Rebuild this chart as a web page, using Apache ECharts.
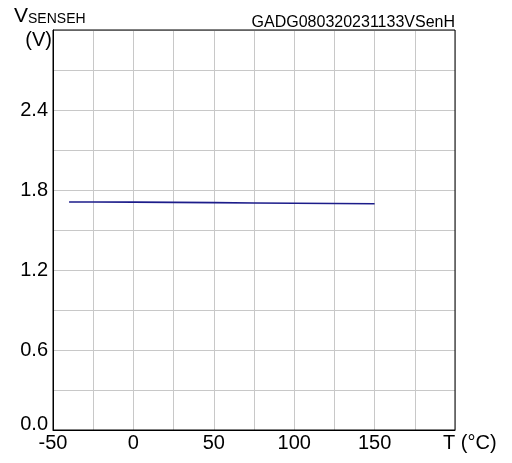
<!DOCTYPE html>
<html>
<head>
<meta charset="utf-8">
<script src="https://cdn.jsdelivr.net/npm/echarts@6/dist/echarts.min.js"></script>
<style>
  html, body { margin: 0; padding: 0; background: #fff; }
  #chart { width: 512px; height: 463px; }
</style>
</head>
<body>
<div id="chart"></div>
<script>
// temperature (°C) and VSENSEH (V)
const temps = [-40, -25, 0, 25, 50, 75, 100, 125, 150];
const vsenseh = [1.710, 1.710, 1.709, 1.707, 1.705, 1.703, 1.701, 1.699, 1.697];
const xTickLabels = ['-50', '0', '50', '100', '150', ''];
const yTickLabels = ['0.0', '0.6', '1.2', '1.8', '2.4', ''];

const chart = echarts.init(document.getElementById('chart'));
const font = 'Liberation Sans, Arial, sans-serif';

const option = {
  animation: false,
  grid: { left: 53, right: 57, top: 30, bottom: 33 },
  xAxis: {
    type: 'value',
    min: -50, max: 200, interval: 25,
    axisLine: { show: true, onZero: false, lineStyle: { color: '#000', width: 1 } },
    axisTick: { show: false },
    splitLine: { show: true, lineStyle: { color: '#c8c8c8', width: 1 } },
    axisLabel: {
      color: '#000', fontFamily: font, fontSize: 20, margin: 3,
      formatter: v => (v % 50 === 0 ? xTickLabels[(v + 50) / 50] : '')
    }
  },
  yAxis: {
    type: 'value',
    min: 0, max: 3, interval: 0.3,
    axisLine: { show: true, onZero: false, lineStyle: { color: '#000', width: 1 } },
    axisTick: { show: false },
    splitLine: { show: true, lineStyle: { color: '#c8c8c8', width: 1 } },
    axisLabel: {
      color: '#000', fontFamily: font, fontSize: 20, margin: 5,
      formatter: v => {
        const i = Math.round(v / 0.6 * 1000) / 1000;
        if (!Number.isInteger(i)) return '';
        // the bottom label sits just above the x axis
        return i === 0 ? '{low|' + yTickLabels[i] + '}' : yTickLabels[i];
      },
      rich: { low: { fontFamily: font, fontSize: 20, color: '#000', padding: [0, 0, 12, 0] } }
    }
  },
  series: [{
    type: 'line',
    data: temps.map((t, i) => [t, vsenseh[i]]),
    showSymbol: false,
    lineStyle: { color: '#1c1c8a', width: 1.6 },
    z: 5
  }],
  graphic: [
    // plot frame top/right
    { type: 'rect', shape: { x: 53, y: 30, width: 402, height: 400 },
      style: { fill: 'none', stroke: '#000', lineWidth: 1 }, z: 10, silent: true },
    { type: 'text', left: 14, top: 6, style: {
        text: '{v|V}{s|SENSEH}', fill: '#000',
        rich: {
          v: { fontFamily: font, fontSize: 21, verticalAlign: 'bottom' },
          s: { fontFamily: font, fontSize: 14, verticalAlign: 'bottom', padding: [0, 0, 1, 0] }
        } } },
    { type: 'text', x: 52, y: 30, style: { text: '(V)', fontFamily: font, fontSize: 20, fill: '#000', align: 'right' } },
    { type: 'text', right: 57, top: 15, style: { text: 'GADG080320231133VSenH', fontFamily: font, fontSize: 16, fill: '#000' } },
    { type: 'text', left: 443, top: 433, style: { text: 'T (°C)', fontFamily: font, fontSize: 20, fill: '#000' } }
  ]
};
chart.setOption(option);
</script>
</body>
</html>
